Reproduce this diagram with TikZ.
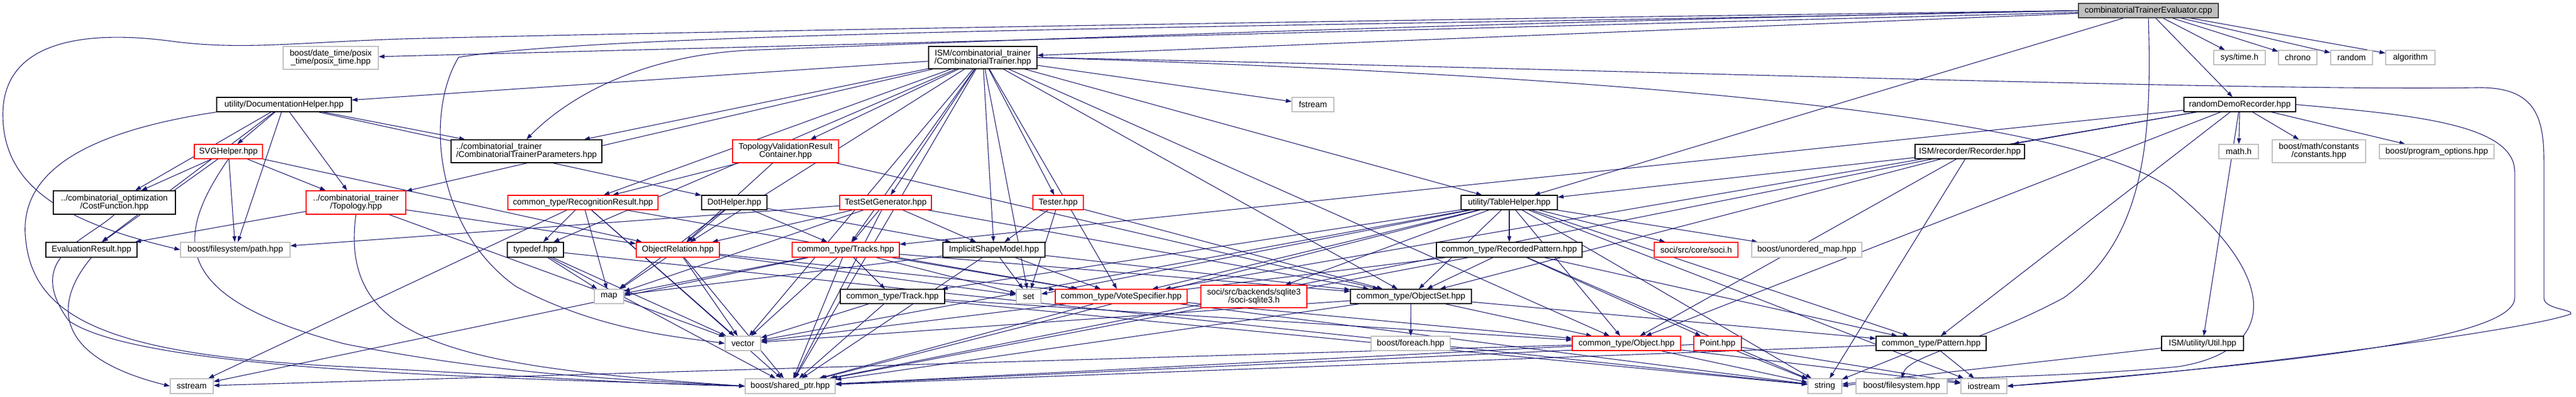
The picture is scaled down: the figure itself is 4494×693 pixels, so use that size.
\documentclass[tikz,border=0pt]{standalone}
\usepackage{fontspec}
\setmainfont{Liberation Sans}
\usetikzlibrary{arrows.meta}
\definecolor{edgec}{HTML}{191970}
\definecolor{grayb}{HTML}{BFBFBF}
\pgfdeclarelayer{bg}
\pgfsetlayers{bg,main}
\begin{document}
\begin{tikzpicture}[x=1bp,y=-1bp,
  font=\fontsize{14.7bp}{14bp}\selectfont,
  box/.style={draw, rectangle, inner sep=0pt, fill=white, line width=1.3bp, align=center},
  docn/.style={box, draw=black},
  extn/.style={box, draw=grayb},
  trunc/.style={box, draw=red},
  rootn/.style={box, draw=black!75, fill=grayb},
  edge/.style={draw=edgec, line width=1.1bp, -{Triangle[length=10bp,width=7bp]}}]
\useasboundingbox (0,0) rectangle (4494,693);
% rank 0
\node[rootn, minimum width=244bp, minimum height=25bp] (cpp) at (3748,18.5) {combinatorialTrainerEvaluator.cpp};
% rank 1
\node[extn, minimum width=166bp, minimum height=40bp] (posix) at (577,101) {boost/date\_time/posix\\\_time/posix\_time.hpp};
\node[docn, minimum width=189bp, minimum height=39bp] (ct) at (1714.5,100.5) {ISM/combinatorial\_trainer\\/CombinatorialTrainer.hpp};
\node[extn, minimum width=90bp, minimum height=25bp] (systime) at (3907,100.5) {sys/time.h};
\node[extn, minimum width=67bp, minimum height=25bp] (chrono) at (4008.5,100.5) {chrono};
\node[extn, minimum width=73bp, minimum height=25bp] (random) at (4102.5,100.5) {random};
\node[extn, minimum width=86bp, minimum height=25bp] (algorithm) at (4205,100.5) {algorithm};
% rank 2
\node[docn, minimum width=235bp, minimum height=25bp] (dh) at (495.5,182.5) {utility/DocumentationHelper.hpp};
\node[extn, minimum width=73bp, minimum height=25bp] (fstream) at (2290.5,182.5) {fstream};
\node[docn, minimum width=195bp, minimum height=25bp] (rdr) at (3907.5,182.5) {randomDemoRecorder.hpp};
% rank 3
\node[trunc, minimum width=119bp, minimum height=25bp] (svg) at (398.5,264.5) {SVGHelper.hpp};
\node[docn, minimum width=263bp, minimum height=40bp, align=left] (params) at (918.5,264) {../combinatorial\_trainer\\/CombinatorialTrainerParameters.hpp};
\node[trunc, minimum width=185bp, minimum height=40bp] (tvrc) at (1370.5,264) {TopologyValidationResult\\Container.hpp};
\node[docn, minimum width=191bp, minimum height=25bp] (recorder) at (3436.5,264.5) {ISM/recorder/Recorder.hpp};
\node[extn, minimum width=69bp, minimum height=25bp] (math) at (3905.5,264.5) {math.h};
\node[extn, minimum width=163bp, minimum height=40bp] (constants) at (4045.5,264) {boost/math/constants\\/constants.hpp};
\node[extn, minimum width=200bp, minimum height=25bp] (progopt) at (4251,264.5) {boost/program\_options.hpp};
% rank 4
\node[docn, minimum width=213bp, minimum height=41bp] (costfn) at (199.5,353.5) {../combinatorial\_optimization\\/CostFunction.hpp};
\node[trunc, minimum width=174bp, minimum height=41bp] (topology) at (621,353.5) {../combinatorial\_trainer\\/Topology.hpp};
\node[trunc, minimum width=262bp, minimum height=25bp] (recres) at (1017,353.5) {common\_type/RecognitionResult.hpp};
\node[docn, minimum width=114bp, minimum height=25bp] (dothelper) at (1281,353.5) {DotHelper.hpp};
\node[trunc, minimum width=160bp, minimum height=25bp] (tsg) at (1545,353.5) {TestSetGenerator.hpp};
\node[trunc, minimum width=88bp, minimum height=25bp] (tester) at (1846,353.5) {Tester.hpp};
\node[docn, minimum width=168bp, minimum height=25bp] (tablehelper) at (2633,353.5) {utility/TableHelper.hpp};
% rank 5
\node[docn, minimum width=159bp, minimum height=26bp] (evalres) at (159.5,436) {EvaluationResult.hpp};
\node[extn, minimum width=191bp, minimum height=26bp] (path) at (410.5,436) {boost/filesystem/path.hpp};
\node[docn, minimum width=98bp, minimum height=26bp] (typedef) at (934,436) {typedef.hpp};
\node[trunc, minimum width=145bp, minimum height=26bp] (objrel) at (1182.5,436) {ObjectRelation.hpp};
\node[trunc, minimum width=187bp, minimum height=26bp] (tracks) at (1475.5,436) {common\_type/Tracks.hpp};
\node[docn, minimum width=178bp, minimum height=26bp] (ism) at (1734,436) {ImplicitShapeModel.hpp};
\node[docn, minimum width=254bp, minimum height=26bp] (recpat) at (2633,436) {common\_type/RecordedPattern.hpp};
\node[trunc, minimum width=146bp, minimum height=26bp] (soci) at (2959,436) {soci/src/core/soci.h};
\node[extn, minimum width=192bp, minimum height=26bp] (umap) at (3152,436) {boost/unordered\_map.hpp};
% rank 6
\node[extn, minimum width=51bp, minimum height=25bp] (map) at (1062.5,517.5) {map};
\node[docn, minimum width=182bp, minimum height=25bp] (track) at (1557,517.5) {common\_type/Track.hpp};
\node[extn, minimum width=43bp, minimum height=25bp] (set) at (1794.5,517.5) {set};
\node[trunc, minimum width=230bp, minimum height=25bp] (votespec) at (1956,517.5) {common\_type/VoteSpecifier.hpp};
\node[trunc, minimum width=185bp, minimum height=39bp] (sqlite) at (2187.5,517.5) {soci/src/backends/sqlite3\\/soci-sqlite3.h};
\node[docn, minimum width=211bp, minimum height=25bp] (objectset) at (2461.5,517.5) {common\_type/ObjectSet.hpp};
% rank 7
\node[extn, minimum width=62bp, minimum height=25bp] (vector) at (1296,599.5) {vector};
\node[extn, minimum width=138bp, minimum height=25bp] (foreach) at (2461,599.5) {boost/foreach.hpp};
\node[trunc, minimum width=189bp, minimum height=25bp] (object) at (2837.5,599.5) {common\_type/Object.hpp};
\node[trunc, minimum width=83bp, minimum height=25bp] (point) at (2996.5,599.5) {Point.hpp};
\node[docn, minimum width=192bp, minimum height=25bp] (pattern) at (3369,599.5) {common\_type/Pattern.hpp};
\node[docn, minimum width=143bp, minimum height=25bp] (util) at (3842.5,599.5) {ISM/utility/Util.hpp};
% rank 8
\node[extn, minimum width=75bp, minimum height=26bp] (sstream) at (334.5,674) {sstream};
\node[extn, minimum width=157bp, minimum height=26bp] (shared) at (1378.5,674) {boost/shared\_ptr.hpp};
\node[extn, minimum width=59bp, minimum height=26bp] (string) at (3183.5,674) {string};
\node[extn, minimum width=159bp, minimum height=26bp] (filesystem) at (3317.5,674) {boost/filesystem.hpp};
\node[extn, minimum width=80bp, minimum height=26bp] (iostream) at (3461,674) {iostream};

\begin{pgfonlayer}{bg}
\foreach \a/\b in {cpp/ct, cpp/posix, cpp/tablehelper, cpp/systime, cpp/chrono, cpp/random, cpp/algorithm, cpp/rdr,
  ct/dh, ct/fstream, ct/params, ct/tvrc, ct/topology, ct/recres, ct/typedef, ct/objrel, ct/tsg, ct/tracks, ct/ism, ct/tester, ct/votespec, ct/tablehelper, ct/objectset, ct/object, ct/shared, ct/vector, ct/set,
  dh/svg, dh/costfn, dh/topology, dh/evalres, dh/path, dh/params, dh/dothelper,
  svg/costfn, svg/topology, svg/evalres, svg/path, svg/objrel,
  topology/evalres, topology/objrel, topology/vector,
  recres/typedef, recres/map, recres/sstream, recres/vector, recres/shared, recres/votespec,
  tvrc/recres, tvrc/objrel, tvrc/objectset,
  dothelper/map, dothelper/objrel, dothelper/tracks, dothelper/ism,
  tsg/path, tsg/tracks, tsg/ism, tsg/objrel, tsg/objectset, tsg/map, tsg/shared,
  tester/ism, tester/set, tester/objectset,
  tablehelper/recpat, tablehelper/soci, tablehelper/umap, tablehelper/objectset, tablehelper/object, tablehelper/pattern, tablehelper/votespec, tablehelper/set, tablehelper/track, tablehelper/sqlite, tablehelper/string, tablehelper/vector, tablehelper/shared, tablehelper/iostream,
  recorder/tablehelper, recorder/objectset, recorder/object, recorder/string, recorder/shared,
  rdr/recorder, rdr/math, rdr/constants, rdr/progopt, rdr/util, rdr/tracks, rdr/votespec, rdr/object, rdr/pattern,
  typedef/map, typedef/vector, typedef/shared, typedef/string,
  objrel/map, objrel/vector, objrel/shared, objrel/set, objrel/votespec,
  tracks/track, tracks/map, tracks/vector, tracks/shared, tracks/sstream, tracks/votespec, tracks/set, tracks/objectset,
  ism/set, ism/votespec, ism/objectset, ism/map, ism/shared,
  recpat/objectset, recpat/point, recpat/pattern, recpat/vector, recpat/shared, recpat/string,
  track/vector, track/shared, track/object, track/string,
  votespec/object, votespec/shared, votespec/string,
  objectset/foreach, objectset/object, objectset/pattern, objectset/vector, objectset/shared,
  object/shared, object/sstream, object/string, object/iostream,
  point/string, point/iostream, point/shared,
  pattern/string, pattern/iostream, pattern/shared,
  util/string}
  \draw[edge] (\a) -- (\b);
% routed connectors
\draw[edge] (cpp.west) .. controls (2400,35) and (1200,55) .. (700,68) .. controls (520,74) and (420,88) .. (300,72) .. controls (150,52) and (5,70) .. (5,200) .. controls (5,330) and (120,390) .. (path.west);
\draw[edge] (cpp.west) .. controls (2500,40) and (1500,80) .. (1300,88) .. controls (1100,100) and (980,180) .. (params.north);
\draw[edge] (cpp.west) .. controls (2500,45) and (1100,50) .. (800,100) .. controls (740,200) and (760,400) .. (900,500) .. controls (1050,580) and (1200,590) .. (vector.west);
\draw[edge] (cpp.south) .. controls (3755,250) and (3740,420) .. (3600,520) .. controls (3450,600) and (3330,620) .. (filesystem.north);
\draw[edge] (ct.east) .. controls (2600,115) and (3900,160) .. (4320,153) .. controls (4420,151) and (4438,200) .. (4438,280) -- (4438,520) .. controls (4438,540) and (4490,540) .. (4485,548) .. controls (4400,580) and (3800,655) .. (iostream.east);
\draw[edge] (ct.east) .. controls (2800,130) and (3650,200) .. (3800,340) .. controls (3990,500) and (3960,615) .. (3800,640) .. controls (3600,660) and (3300,660) .. (string.east);
\draw[edge] (rdr.east) .. controls (4200,200) and (4387,215) .. (4387,300) -- (4387,520) .. controls (4387,600) and (3900,640) .. (iostream.east);
\draw[edge] (dh.south west) .. controls (150,230) and (30,300) .. (45,420) .. controls (60,560) and (200,620) .. (600,640) .. controls (900,655) and (1100,670) .. (shared.west);
\draw[edge] (costfn.south) .. controls (150,420) and (40,450) .. (120,560) .. controls (250,650) and (900,660) .. (shared.west);
\draw[edge] (svg.south) .. controls (300,420) and (300,520) .. (600,600) .. controls (900,660) and (1150,665) .. (shared.west);
\draw[edge] (topology.south) .. controls (590,600) and (800,640) .. (shared.west);
\draw[edge] (evalres.south) .. controls (100,520) and (80,620) .. (sstream.west);
\end{pgfonlayer}
\end{tikzpicture}
\end{document}
